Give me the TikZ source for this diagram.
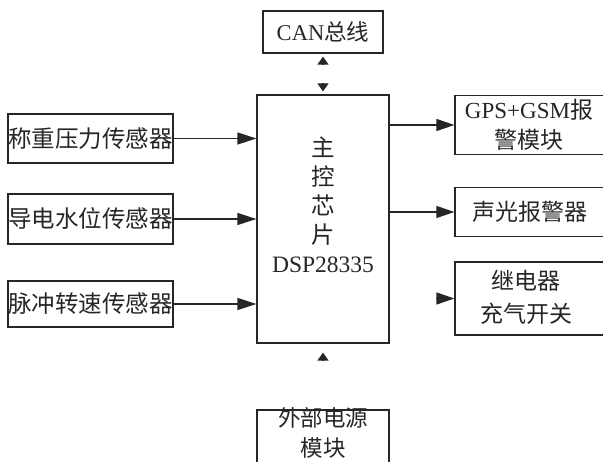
\documentclass[tikz,border=0pt]{standalone}
\usepackage{fontspec}
\setmainfont{Liberation Serif}
\newfontfamily\cjk{Noto Sans CJK SC}
\newcommand{\zh}[1]{{\cjk #1}}
\usetikzlibrary{arrows.meta,calc}
\begin{document}
\begin{tikzpicture}[x=1pt,y=-1pt,
  line width=1.2pt, color=black!85,
  box/.style={draw, rectangle, inner sep=0pt, align=center},
  txt/.style={font=\fontsize{23}{30}\selectfont, align=center, inner sep=0pt},
  barrow/.style={-{Triangle[length=19pt,width=12pt]}},
  rarrow/.style={-{Triangle[length=18pt,width=12pt]}},
  sarrow/.style={-{Triangle[length=8pt,width=11pt]}}]
\useasboundingbox (0,0) rectangle (603,462);
\clip (0,0) rectangle (603,462);

% top bus
\node[box, minimum width=120pt, minimum height=42pt, txt, font=\fontsize{22.5}{30}\selectfont] (can) at (323,32) {CAN\zh{总线}};

% main chip
\node[box, minimum width=132pt, minimum height=248pt] (main) at (323,219) {};
\node[txt, font=\fontsize{23.5}{29}\selectfont] (mainlbl) at (323,205) {\zh{主}\\\zh{控}\\\zh{芯}\\\zh{片}\\DSP28335};

% left sensors
\node[box, minimum width=165pt, minimum height=49pt, txt, font=\fontsize{23.5}{30}\selectfont] (s1) at (90.5,138.5) {\zh{称重压力传感器}};
\node[box, minimum width=165pt, minimum height=50pt, txt, font=\fontsize{23.5}{30}\selectfont] (s2) at (90.5,219) {\zh{导电水位传感器}};
\node[box, minimum width=165pt, minimum height=46pt, txt, font=\fontsize{23.5}{30}\selectfont] (s3) at (90.5,304) {\zh{脉冲转速传感器}};

% right outputs
\node[box, minimum width=150pt, minimum height=59pt] (r1) at (530,125) {};
\node[txt] (r1lbl) at (529,125) {GPS+GSM\zh{报}\\\zh{警模块}};
\node[box, minimum width=150pt, minimum height=49pt, txt] (r2) at (530,212) {\zh{声光报警器}};
\node[box, minimum width=150pt, minimum height=73pt] (r3) at (530,298.5) {};
\node[txt, font=\fontsize{23}{33}\selectfont] (r3lbl) at (526,297) {\zh{继电器}\\\zh{充气开关}};

% power
\node[box, minimum width=132pt, minimum height=64pt] (pwr) at (323,442) {};
\node[txt, font=\fontsize{22.5}{30}\selectfont] (pwrlbl) at (323,433) {\zh{外部电源}\\\zh{模块}};

% connectors
\draw[barrow] (s1.east) -- (s1.east -| main.west);
\draw[barrow] (s2.east) -- (s2.east -| main.west);
\draw[barrow] (s3.east) -- (s3.east -| main.west);
\draw[rarrow] (main.east |- r1.west) -- (r1.west);
\draw[rarrow] (main.east |- r2.west) -- (r2.west);
\draw[rarrow] ($(r3.west)+(-18,0)$) -- (r3.west);
\draw[sarrow] ($(can.south)+(0,11)$) -- ($(can.south)+(0,3)$);
\draw[sarrow] ($(main.north)+(0,-11)$) -- ($(main.north)+(0,-3)$);
\draw[sarrow] ($(main.south)+(0,17)$) -- ($(main.south)+(0,9)$);
\end{tikzpicture}
\end{document}
